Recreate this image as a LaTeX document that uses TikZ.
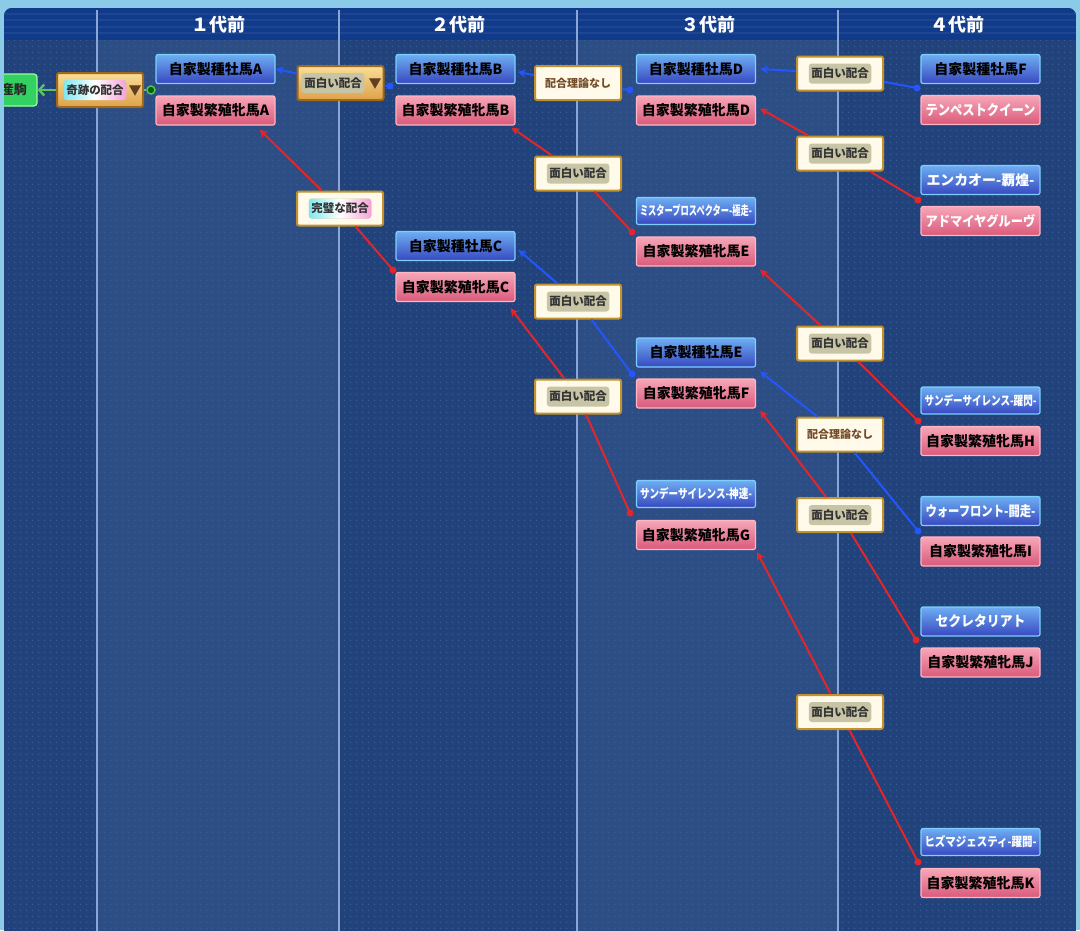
\documentclass[tikz,border=0pt]{standalone}
\usepackage{fontspec}
\setmainfont{Noto Sans CJK JP}
\usetikzlibrary{arrows.meta,calc,patterns.meta}
\definecolor{frame}{HTML}{8CCBE8}
\definecolor{panel}{HTML}{21427A}
\definecolor{colL}{HTML}{2D4E85}
\definecolor{hdr}{HTML}{103A8A}
\definecolor{sep}{HTML}{8AA6D6}
\definecolor{sireT}{HTML}{6EAEF2}
\definecolor{sireB}{HTML}{3848C0}
\definecolor{sireE}{HTML}{7CCFFF}
\definecolor{damT}{HTML}{F7A6B8}
\definecolor{damB}{HTML}{D95A7A}
\definecolor{damE}{HTML}{FFB6C4}
\definecolor{cream}{HTML}{FFFAEA}
\definecolor{gold}{HTML}{C3922C}
\definecolor{goldT}{HTML}{F9DE96}
\definecolor{goldB}{HTML}{DEA24A}
\definecolor{goldE}{HTML}{A06818}
\definecolor{khaki}{HTML}{C8C5A6}
\definecolor{blueL}{HTML}{2456FF}
\definecolor{redL}{HTML}{E3262A}
\definecolor{greenL}{HTML}{5CC45C}
\definecolor{rb1}{HTML}{3CD6A0}
\definecolor{rb2}{HTML}{7FE8F0}
\definecolor{rb3}{HTML}{FFFFFF}
\definecolor{rb4}{HTML}{F6A0D8}
\definecolor{rb5}{HTML}{FFD870}
\definecolor{dotc}{HTML}{3A5C94}
\pgfdeclarehorizontalshading{rainbowsh}{100bp}{color(0bp)=(rb1); color(25bp)=(rb2); color(50bp)=(rb3); color(75bp)=(rb4); color(100bp)=(rb5)}
\tikzdeclarepattern{name=griddots, type=uncolored, bounding box={(0pt,0pt) and (6pt,6pt)}, tile size={(6pt,6pt)}, code={\pgfpathcircle{\pgfpoint{3pt}{3pt}}{0.9pt}\pgfusepath{fill}}}
\begin{document}
\begin{tikzpicture}[x=1pt,y=-1pt,
  box/.style={rectangle, rounded corners=2pt, minimum width=119pt, minimum height=29pt, inner sep=0pt, line width=1.2pt, font=\bfseries\fontsize{14}{14}\selectfont, text=black},
  sire/.style={box, top color=sireT, bottom color=sireB, draw=sireE},
  dam/.style={box, top color=damT, bottom color=damB, draw=damE},
  small/.style={minimum height=27pt},
  nm/.style={text=white, font=\bfseries\fontsize{12}{12}\selectfont},
  lab/.style={rectangle, rounded corners=2pt, minimum width=86pt, minimum height=34pt, fill=cream, draw=gold, line width=2pt},
  glab/.style={lab, top color=goldT, bottom color=goldB, draw=goldE},
  intxt/.style={rectangle, rounded corners=3pt, fill=khaki, inner sep=2.5pt, minimum height=20pt, font=\bfseries\fontsize{11.5}{11.5}\selectfont, text=black!80},
  rtxt/.style={intxt, shading=rainbowsh},
  plain/.style={font=\bfseries\fontsize{11}{11}\selectfont, text=brown!60!black},
  tri/.style={font=\fontsize{13}{13}\selectfont, text=brown!50!black, inner sep=0pt},
  hdrtxt/.style={text=white, font=\bfseries\fontsize{18}{18}\selectfont},
  bar/.style={-{Stealth[length=8pt,width=8pt]}, blueL, line width=2pt},
  rar/.style={-{Stealth[length=8pt,width=8pt]}, redL, line width=2pt},
  bln/.style={blueL, line width=2pt},
  rln/.style={redL, line width=2pt}]
\useasboundingbox (0,0) rectangle (1080,930);
% background
\fill[frame] (0,0) rectangle (1080,930);
\begin{scope}
\clip[rounded corners=8pt] (4,8) rectangle (1076,945);
\fill[panel] (4,8) rectangle (1076,945);
\fill[colL] (97,40) rectangle (339,945);
\fill[colL] (577,40) rectangle (838,945);
\fill[pattern=griddots, pattern color=dotc] (4,40) rectangle (1076,945);
\fill[hdr] (4,8) rectangle (1076,40);
\foreach \yy in {14,20,27,33} { \draw[white, opacity=0.06, line width=1.5pt] (4,\yy) -- (1076,\yy); }
\foreach \xx in {97,339,577,838} { \draw[sep, line width=1.5pt] (\xx,10) -- (\xx,935); }
% green child box (cut at the left edge)
\node[rectangle, rounded corners=3pt, minimum width=46pt, minimum height=32pt, fill=green!55!teal!80!white, draw=green!40!white, line width=1.2pt, font=\bfseries\fontsize{13}{13}\selectfont, text=black!85] (kid) at (14,90) {産駒};
\end{scope}
\node[hdrtxt] (h1) at (218,25) {１代前};
\node[hdrtxt] (h2) at (458,25) {２代前};
\node[hdrtxt] (h3) at (708,25) {３代前};
\node[hdrtxt] (h4) at (957,25) {４代前};
% horse boxes
\node[sire] (sA) at (215.5,69) {自家製種牡馬A};
\node[dam]  (dA) at (215.5,110.5) {自家製繁殖牝馬A};
\node[sire] (sB) at (455.5,69) {自家製種牡馬B};
\node[dam]  (dB) at (455.5,110.5) {自家製繁殖牝馬B};
\node[sire] (sC) at (455.5,246) {自家製種牡馬C};
\node[dam]  (dC) at (455.5,287) {自家製繁殖牝馬C};
\node[sire] (sD) at (696,69) {自家製種牡馬D};
\node[dam]  (dD) at (696,110.5) {自家製繁殖牝馬D};
\node[sire,small,nm] (sMP) at (696,211) {\resizebox{112pt}{11pt}{ミスタープロスペクター-極走-}};
\node[dam]  (dE) at (696,251.5) {自家製繁殖牝馬E};
\node[sire] (sE) at (696,352.5) {自家製種牡馬E};
\node[dam]  (dF) at (696,393.5) {自家製繁殖牝馬F};
\node[sire,small,nm] (sSS1) at (696,494) {\resizebox{112pt}{11pt}{サンデーサイレンス-神速-}};
\node[dam]  (dG) at (696,535) {自家製繁殖牝馬G};
\node[sire] (sF) at (980.5,69) {自家製種牡馬F};
\node[dam,nm] (dTQ) at (980.5,110) {\resizebox{110pt}{12pt}{テンペストクイーン}};
\node[sire,nm] (sEK) at (980.5,180) {\resizebox{108pt}{12pt}{エンカオー-覇煌-}};
\node[dam,nm] (dAG) at (980.5,221) {\resizebox{110pt}{12pt}{アドマイヤグルーヴ}};
\node[sire,small,nm] (sSS2) at (980.5,400.5) {\resizebox{112pt}{11pt}{サンデーサイレンス-躍閃-}};
\node[dam]  (dH) at (980.5,441) {自家製繁殖牝馬H};
\node[sire,nm] (sWF) at (980.5,511) {\resizebox{110pt}{12pt}{ウォーフロント-闘走-}};
\node[dam]  (dI) at (980.5,551.5) {自家製繁殖牝馬I};
\node[sire,nm] (sSec) at (980.5,621.5) {\resizebox{90pt}{12pt}{セクレタリアト}};
\node[dam]  (dJ) at (980.5,662.5) {自家製繁殖牝馬J};
\node[sire,small,nm] (sHM) at (980.5,842) {\resizebox{112pt}{11pt}{ヒズマジェスティ-躍闘-}};
\node[dam]  (dK) at (980.5,883) {自家製繁殖牝馬K};
% dot coordinates (parent pair ends)
\coordinate (pB) at (390,86);
\coordinate (pD) at (630,90);
\coordinate (pE) at (632,232);
\coordinate (pC) at (393,270);
\coordinate (pEF) at (632,374);
\coordinate (pG) at (630,513);
\coordinate (pF) at (917,88);
\coordinate (pAG) at (918,200);
\coordinate (pH) at (918,421);
\coordinate (pI) at (918,531);
\coordinate (pJ) at (916,640);
\coordinate (pK) at (918,862);
% label boxes
\node[glab] (kiseki) at (100,90) {};
\node[glab] (om1) at (340.5,83) {};
\node[lab] (nash1) at (578,83) {};
\node[lab] (om2) at (578,173.5) {};
\node[lab] (kanpeki) at (340,208.5) {};
\node[lab] (om3) at (578,301.5) {};
\node[lab] (om4) at (578,396.5) {};
\node[lab] (om5) at (840,73.5) {};
\node[lab] (om6) at (840,153.5) {};
\node[lab] (om7) at (840,343.5) {};
\node[lab] (nash2) at (840,434.5) {};
\node[lab] (om8) at (840,515) {};
\node[lab] (om9) at (840,712) {};
% connectors
\draw[greenL, line width=2.4pt, -{Straight Barb[length=5pt,width=11pt]}] (kiseki) -- (kid);
\node[circle, draw=greenL, fill=green!40!black, inner sep=0pt, minimum size=8pt, line width=1.4pt] (ring) at (151,90) {};
\draw[greenL, line width=2.2pt] (kiseki) -- (ring);
\draw[bar] (om1) -- (sA.east);
\draw[bln] (om1) -- (pB);
\draw[bar] (nash1) -- ([xshift=2pt,yshift=-3pt]sB.east);
\draw[bln] (nash1) -- (pD);
\draw[rar] (om2) -- ([xshift=-4pt,yshift=-2pt]dB.south east);
\draw[rln] (om2) -- (pE);
\draw[rar] (kanpeki) -- ([xshift=-16pt,yshift=-4pt]dA.south east);
\draw[rln] (kanpeki) -- (pC);
\draw[bar] (om3) -- ([xshift=3pt,yshift=-4pt]sC.east);
\draw[bln] (om3) -- (pEF);
\draw[rar] (om4) -- ([xshift=-5pt,yshift=-6pt]dC.south east);
\draw[rln] (om4) -- (pG);
\draw[bar] (om5) -- ([xshift=4pt]sD.east);
\draw[bln] (om5) -- (pF);
\draw[rar] (om6) -- ([xshift=4pt,yshift=2pt]dD.east);
\draw[rln] (om6) -- (pAG);
\draw[rar] (om7) -- ([xshift=4pt,yshift=-3pt]dE.south east);
\draw[rln] (om7) -- (pH);
\draw[bar] (nash2) -- ([xshift=4pt,yshift=-4pt]sE.south east);
\draw[bln] (nash2) -- (pI);
\draw[rar] (om8) -- ([xshift=4pt,yshift=-2pt]dF.south east);
\draw[rln] (om8) -- (pJ);
\draw[rar] (om9) -- ([xshift=1pt,yshift=-2pt]dG.south east);
\draw[rln] (om9) -- (pK);
\foreach \p in {pB,pD,pEF,pF,pI} { \fill[blueL] (\p) circle (3.5pt); }
\foreach \p in {pE,pC,pG,pAG,pH,pJ,pK} { \fill[redL] (\p) circle (3.5pt); }
% label contents
\node[rtxt] (kisekit) at (95,90) {奇跡の配合};
\node[tri] (kisekiv) at (135,91) {▼};
\node[intxt] (om1t) at (333,83) {面白い配合};
\node[tri] (om1v) at (375,84) {▼};
\foreach \n in {om2,om3,om4,om5,om6,om7,om8,om9} {
  \node[intxt] (\n t) at (\n) {面白い配合};
}
\node[rtxt] (kanpekit) at (kanpeki) {完璧な配合};
\foreach \n in {nash1,nash2} {
  \node[plain] (\n t) at (\n) {配合理論なし};
}
\end{tikzpicture}
\end{document}
